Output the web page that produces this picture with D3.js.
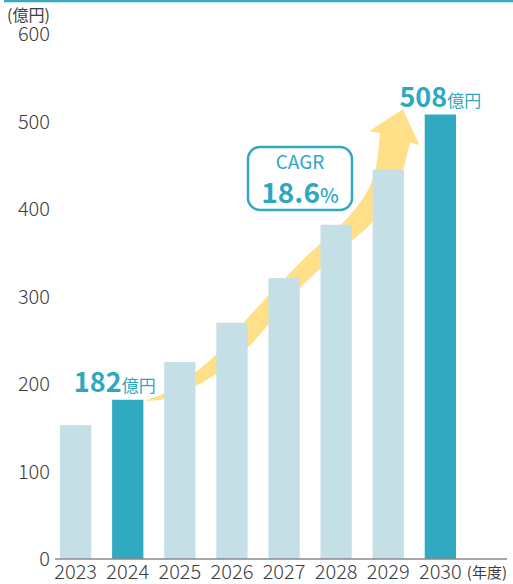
<!DOCTYPE html>
<html>
<head>
<meta charset="utf-8">
<script src="https://cdn.jsdelivr.net/npm/d3@7"></script>
<style>
  html, body { margin: 0; padding: 0; background: #fff; }
  svg { display: block; font-family: "Noto Sans CJK JP", "Noto Sans", sans-serif; }
</style>
</head>
<body>
<div id="chart"></div>
<script>
// Data
const years = ["2023", "2024", "2025", "2026", "2027", "2028", "2029", "2030"];
const values = [153, 182, 225, 270, 321, 382, 445, 508];
const highlighted = ["2024", "2030"];
const yTicks = [0, 100, 200, 300, 400, 500, 600];
const valueLabels = [
    { year: "2024", value: 182, num: "182", unit: "億円", dx: -13 },
    { year: "2030", value: 508, num: "508", unit: "億円", dx: 0 }
];
const cagrTitle = "CAGR";
const cagrNum = "18.6";
const cagrUnit = "%";

// growth arrow outline in (year, value) space
const arrowUpper = [[2024.33, 181], [2024.72, 190], [2025.31, 214], [2025.71, 235], [2026.31, 276], [2027.31, 339], [2028.31, 396], [2028.71, 435], [2028.84, 487]];
const arrowHead = [[2028.63, 489], [2029.28, 514], [2029.6, 473], [2029.42, 476]];
const arrowLower = [[2029.3, 448], [2028.71, 386], [2028.31, 364], [2027.31, 310], [2026.31, 242], [2025.71, 212], [2025.31, 198], [2024.72, 183], [2024.33, 181]];

const width = 513;
const height = 584;

const colors = {
    light: "#c5dfe7",
    dark: "#30a9c1",
    text: "#2ea8bf",
    arrow: "#ffe088",
    axisText: "#3d3d3d",
    axis: "#8a8a8a"
};

const svg = d3.select("#chart")
    .append("svg")
    .attr("width", width)
    .attr("height", height);

// top rule
svg.append("line")
    .attr("x1", 4).attr("x2", width)
    .attr("y1", 1).attr("y2", 1)
    .attr("stroke", "#3aaabf")
    .attr("stroke-width", 2.5);

const x = d3.scaleBand()
    .domain(years)
    .range([49.6, 466.4])
    .paddingInner(0.4)
    .paddingOuter(0.2);

const y = d3.scaleLinear()
    .domain([0, 600])
    .range([559, 34]);

const xYear = d3.scaleLinear()
    .domain([2023, 2030])
    .range([x("2023") + x.bandwidth() / 2, x("2030") + x.bandwidth() / 2]);

// y tick labels
svg.append("g")
    .selectAll("text")
    .data(yTicks)
    .join("text")
    .attr("x", 50)
    .attr("y", d => y(d))
    .attr("dy", "0.36em")
    .attr("text-anchor", "end")
    .attr("font-size", 20)
    .attr("font-weight", 300)
    .attr("fill", colors.axisText)
    .text(d => d);

svg.append("text")
    .attr("x", 7)
    .attr("y", 21)
    .attr("font-size", 16)
    .attr("fill", colors.axisText)
    .text("(億円)");

// arrow
const toPx = d => [xYear(d[0]), y(d[1])];
const curve = d3.line().curve(d3.curveCatmullRom.alpha(0.5));
const upperPath = curve(arrowUpper.map(toPx));
const lowerPath = curve(arrowLower.map(toPx)).replace(/^M/, "L");
const headPath = arrowHead.map(toPx).map(p => "L" + p[0] + "," + p[1]).join("");

svg.append("path")
    .attr("d", upperPath + headPath + lowerPath + "Z")
    .attr("fill", colors.arrow);

// bars
svg.append("g")
    .selectAll("rect")
    .data(years)
    .join("rect")
    .attr("x", d => x(d))
    .attr("y", (d, i) => y(values[i]))
    .attr("width", x.bandwidth())
    .attr("height", (d, i) => y(0) - y(values[i]))
    .attr("fill", d => highlighted.includes(d) ? colors.dark : colors.light);

// x axis
svg.append("line")
    .attr("x1", 55).attr("x2", 507)
    .attr("y1", y(0)).attr("y2", y(0))
    .attr("stroke", colors.axis)
    .attr("stroke-width", 1.5);

svg.append("g")
    .selectAll("text")
    .data(years)
    .join("text")
    .attr("x", d => x(d) + x.bandwidth() / 2)
    .attr("y", 579)
    .attr("text-anchor", "middle")
    .attr("font-size", 20)
    .attr("font-weight", 300)
    .attr("fill", colors.axisText)
    .text(d => d);

svg.append("text")
    .attr("x", 507)
    .attr("y", 578)
    .attr("text-anchor", "end")
    .attr("font-size", 15)
    .attr("fill", colors.axisText)
    .text("(年度)");

// value labels
const vl = svg.append("g")
    .selectAll("text")
    .data(valueLabels)
    .join("text")
    .attr("x", d => x(d.year) + x.bandwidth() / 2 + d.dx)
    .attr("y", d => y(d.value) - 8)
    .attr("text-anchor", "middle")
    .attr("fill", colors.text);

vl.append("tspan")
    .attr("font-size", 27)
    .attr("font-weight", 700)
    .text(d => d.num);

vl.append("tspan")
    .attr("font-size", 17)
    .attr("font-weight", 400)
    .text(d => d.unit);

// CAGR box
const box = svg.append("g");
box.append("rect")
    .attr("x", 248).attr("y", 147)
    .attr("width", 104).attr("height", 63)
    .attr("rx", 12)
    .attr("fill", "#fff")
    .attr("stroke", colors.dark)
    .attr("stroke-width", 2.5);

box.append("text")
    .attr("x", 300).attr("y", 169)
    .attr("text-anchor", "middle")
    .attr("font-size", 19)
    .attr("fill", colors.text)
    .text(cagrTitle);

const cagr = box.append("text")
    .attr("x", 300).attr("y", 203)
    .attr("text-anchor", "middle")
    .attr("fill", colors.text);
cagr.append("tspan")
    .attr("font-size", 28)
    .attr("font-weight", 700)
    .text(cagrNum);
cagr.append("tspan")
    .attr("font-size", 20)
    .attr("font-weight", 500)
    .text(cagrUnit);
</script>
</body>
</html>
